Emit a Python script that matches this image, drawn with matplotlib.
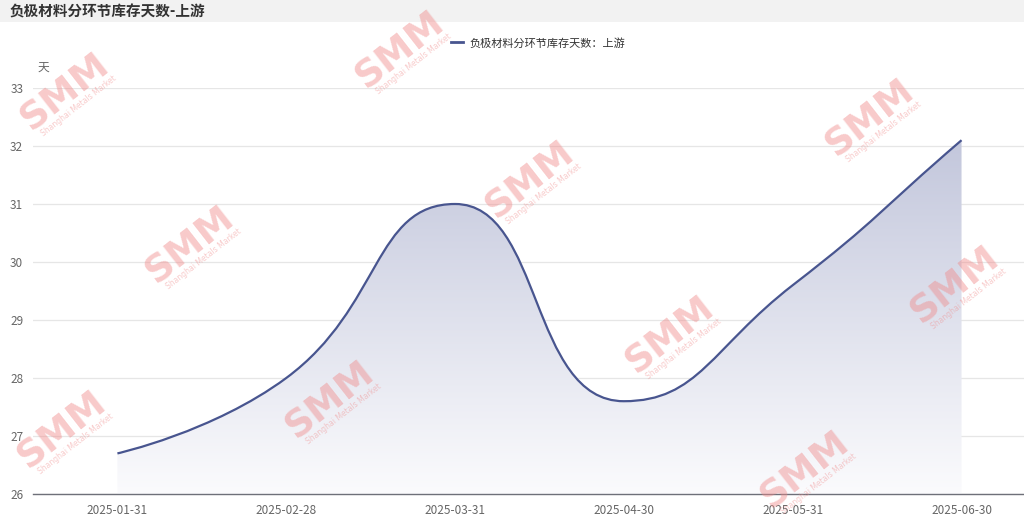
import numpy as np
import matplotlib
matplotlib.use('Agg')
import matplotlib.pyplot as plt
from matplotlib.path import Path
from matplotlib.patches import PathPatch, Rectangle
from matplotlib.lines import Line2D
from matplotlib.colors import LinearSegmentedColormap

plt.rcParams['font.family'] = ['Noto Sans CJK SC', 'DejaVu Sans']

title = '负极材料分环节库存天数-上游'
series_name = '负极材料分环节库存天数：上游'
dates = ['2025-01-31', '2025-02-28', '2025-03-31', '2025-04-30', '2025-05-31', '2025-06-30']
values = [26.7, 28.0, 31.0, 27.6, 29.6, 32.1]
y_ticks = [26, 27, 28, 29, 30, 31, 32, 33]

LINE = '#48558f'
W, H = 1024, 530


def smooth_path(xs, ys, sx, sy, smooth=0.5):
    """echarts-like smooth bezier, computed in pixel space"""
    pts = [(x * sx, y * sy) for x, y in zip(xs, ys)]
    n = len(pts)
    verts = [pts[0]]
    codes = [Path.MOVETO]
    cp0 = pts[0]
    for i in range(1, n):
        px, py = pts[i - 1]
        x, y = pts[i]
        nx, ny = pts[i + 1] if i + 1 < n else pts[i]
        vx, vy = nx - px, ny - py
        lp = np.hypot(x - px, y - py)
        ln = np.hypot(nx - x, ny - y)
        if ln == 0:
            c1x = x - (x - px) * smooth
            c1y = y - (y - py) * smooth
            ncp = (x, y)
        else:
            r = ln / (ln + lp)
            ncx = x + vx * smooth * r
            ncy = y + vy * smooth * r
            ncx = min(ncx, max(nx, x)); ncx = max(ncx, min(nx, x))
            ncy = min(ncy, max(ny, y)); ncy = max(ncy, min(ny, y))
            vx, vy = ncx - x, ncy - y
            c1x = x - vx * lp / ln
            c1y = y - vy * lp / ln
            c1x = min(c1x, max(px, x)); c1x = max(c1x, min(px, x))
            c1y = min(c1y, max(py, y)); c1y = max(c1y, min(py, y))
            vx, vy = x - c1x, y - c1y
            ncp = (x + vx * ln / lp, y + vy * ln / lp)
        verts += [cp0, (c1x, c1y), (x, y)]
        codes += [Path.CURVE4] * 3
        cp0 = ncp
    verts = [(vx_ / sx, vy_ / sy) for vx_, vy_ in verts]
    return verts, codes


fig = plt.figure(figsize=(W / 100, H / 100), dpi=100)
fig.patch.set_facecolor('white')

# title bar
fig.patches.append(Rectangle((0, 1 - 22 / H), 1, 22 / H, transform=fig.transFigure,
                             facecolor='#f2f2f2', edgecolor='none', zorder=0))
fig.text(10 / W, 1 - 11 / H, title, fontsize=10.5, fontweight='bold', color='#333333',
         va='center', ha='left')

ax = fig.add_axes([33 / W, 1 - 494 / H, 1 - 33 / W, (494 - 88) / H])
x = np.arange(len(dates))
ax.set_xlim(-0.5, 5.37)
ax.set_ylim(26, 33)

# pixels per data unit
sx = (962 - 118) / 5
sy = (494 - 88) / 7
verts, codes = smooth_path(x, values, sx, sy)

line_path = Path(verts, codes)
ax.add_patch(PathPatch(line_path, facecolor='none', edgecolor=LINE, lw=1.6, zorder=4))

area_verts = verts + [(x[-1], 26), (x[0], 26), verts[0]]
area_codes = codes + [Path.LINETO, Path.LINETO, Path.CLOSEPOLY]
area = PathPatch(Path(area_verts, area_codes), facecolor='none', edgecolor='none')
ax.add_patch(area)
cmap = LinearSegmentedColormap.from_list('g', ['#fbfbfd', '#c3c7dc'])
grad = np.linspace(0, 1, 256).reshape(-1, 1)
im = ax.imshow(grad, extent=[x[0], x[-1], 26, max(values)], origin='lower', cmap=cmap,
               aspect='auto', zorder=2)
im.set_clip_path(area)

ax.set_yticks(y_ticks)
ax.set_xticks(x)
ax.set_xticklabels(dates)
ax.grid(axis='y', color='#e6e6e6', lw=0.9, zorder=1)
ax.set_axisbelow(True)
for s in ['top', 'right', 'left']:
    ax.spines[s].set_visible(False)
ax.spines['bottom'].set_color('#6e7079')
ax.spines['bottom'].set_linewidth(1.0)
ax.tick_params(axis='both', length=0, labelsize=8.5, colors='#666666')
ax.tick_params(axis='x', pad=7)
ax.tick_params(axis='y', pad=7)
ax.set_facecolor('none')

fig.text(38 / W, 1 - 67 / H, '天', fontsize=8.5, color='#666666', ha='left', va='center')

handle = Line2D([], [], color=LINE, lw=2)
fig.legend([handle], [series_name], loc='center', bbox_to_anchor=(538 / W, 1 - 43 / H),
           frameon=False, fontsize=8, handlelength=1.1, handletextpad=0.5,
           labelcolor='#333333')

# SMM watermarks (kept inside the canvas)
marks = [(65, 92), (400, 50), (190, 245), (530, 180), (870, 118), (330, 400),
         (670, 335), (955, 285), (62, 430), (805, 470)]
for mx, my in marks:
    fig.text(mx / W, 1 - my / H, 'SMM', fontsize=27, fontweight='bold', color='#f08a8a',
             alpha=0.45, rotation=38, ha='center', va='center', family='DejaVu Sans',
             zorder=10)
    fig.text((mx + 14) / W, 1 - (my + 14) / H, 'Shanghai Metals Market', fontsize=5.5,
             color='#f08a8a', alpha=0.45, rotation=38, ha='center', va='center',
             family='DejaVu Sans', zorder=10)

fig.savefig('out.png', dpi=100)
